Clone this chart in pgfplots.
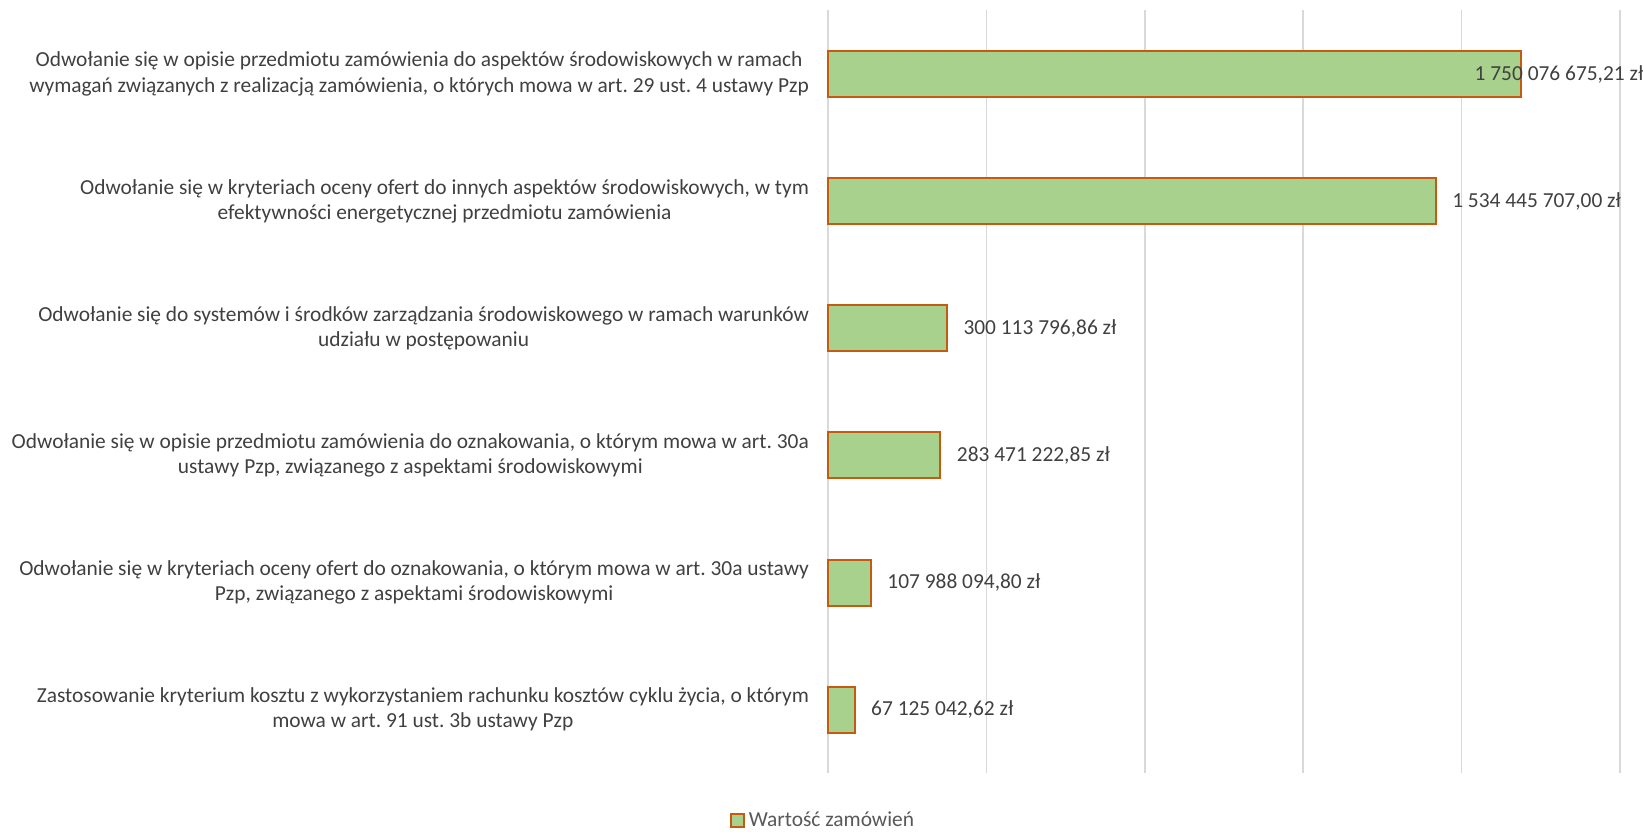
\documentclass[border=0pt]{standalone}
\usepackage{pgfplots}
\pgfplotsset{compat=1.18}
\usepackage{fontspec}
\setmainfont{Carlito}
\frenchspacing
\definecolor{barfill}{HTML}{A9D18E}
\definecolor{baredge}{HTML}{C55A11}
\definecolor{gridgray}{HTML}{D9D9D9}
\definecolor{labgray}{HTML}{404040}
\definecolor{leggray}{HTML}{595959}
\begin{document}
\begin{tikzpicture}
\path[use as bounding box] (0,0) rectangle (821.5pt,415.5pt);
\begin{axis}[
  at={(414pt,28.9pt)}, anchor=south west,
  width=396pt, height=381.4pt, scale only axis,
  xbar, bar width=23pt, bar shift=0pt,
  xmin=0, xmax=2e9, ymin=-0.5, ymax=5.5,
  scaled x ticks=false,
  xtick={0,4e8,8e8,1.2e9,1.6e9,2e9}, xticklabels={},
  xmajorgrids, grid style={draw=gridgray, line width=0.8pt},
  axis line style={draw=none}, major tick length=0pt,
  ytick={0,1,2,3,4,5},
  yticklabels={
    {Zastosowanie kryterium kosztu z wykorzystaniem rachunku kosztów cyklu życia, o którym\\mowa w art. 91 ust. 3b ustawy Pzp},
    {Odwołanie się w kryteriach oceny ofert do oznakowania, o którym mowa w art. 30a ustawy\\Pzp, związanego z aspektami środowiskowymi},
    {Odwołanie się w opisie przedmiotu zamówienia do oznakowania, o którym mowa w art. 30a\\ustawy Pzp, związanego z aspektami środowiskowymi},
    {Odwołanie się do systemów i środków zarządzania środowiskowego w ramach warunków\\udziału w postępowaniu},
    {Odwołanie się w kryteriach oceny ofert do innych aspektów środowiskowych, w tym\\efektywności energetycznej przedmiotu zamówienia},
    {Odwołanie się w opisie przedmiotu zamówienia do aspektów środowiskowych w ramach\\wymagań związanych z realizacją zamówienia, o których mowa w art. 29 ust. 4 ustawy Pzp}
  },
  yticklabel style={align=center, font=\fontsize{10.7}{12.6}\selectfont, text=labgray, xshift=-6pt},
  clip=false,
  point meta=explicit symbolic,
  nodes near coords,
  every node near coord/.append style={anchor=west, font=\fontsize{10.7}{12.6}\selectfont, text=labgray, xshift=4.5pt},
  legend style={at={(axis description cs:-0.005,-0.062)}, anchor=center, draw=none, font=\fontsize{10.7}{12.6}\selectfont, text=leggray, inner sep=1pt},
  legend image code/.code={\draw[#1, line width=1pt] (0pt,-3.2pt) rectangle (6.4pt,3.2pt);},
]
\addplot[fill=barfill, draw=baredge, line width=1pt] coordinates {
  (67125042.62,0) [67 125 042,62 zł]
  (107988094.80,1) [107 988 094,80 zł]
  (283471222.85,2) [283 471 222,85 zł]
  (300113796.86,3) [300 113 796,86 zł]
  (1534445707.00,4) [1 534 445 707,00 zł]
};
\addlegendentry{Wartość zamówień}
\addplot[fill=barfill, draw=baredge, line width=1pt, forget plot,
  every node near coord/.append style={xshift=-31.5pt}] coordinates {
  (1750076675.21,5) [1 750 076 675,21 zł]
};
\end{axis}
\end{tikzpicture}
\end{document}
